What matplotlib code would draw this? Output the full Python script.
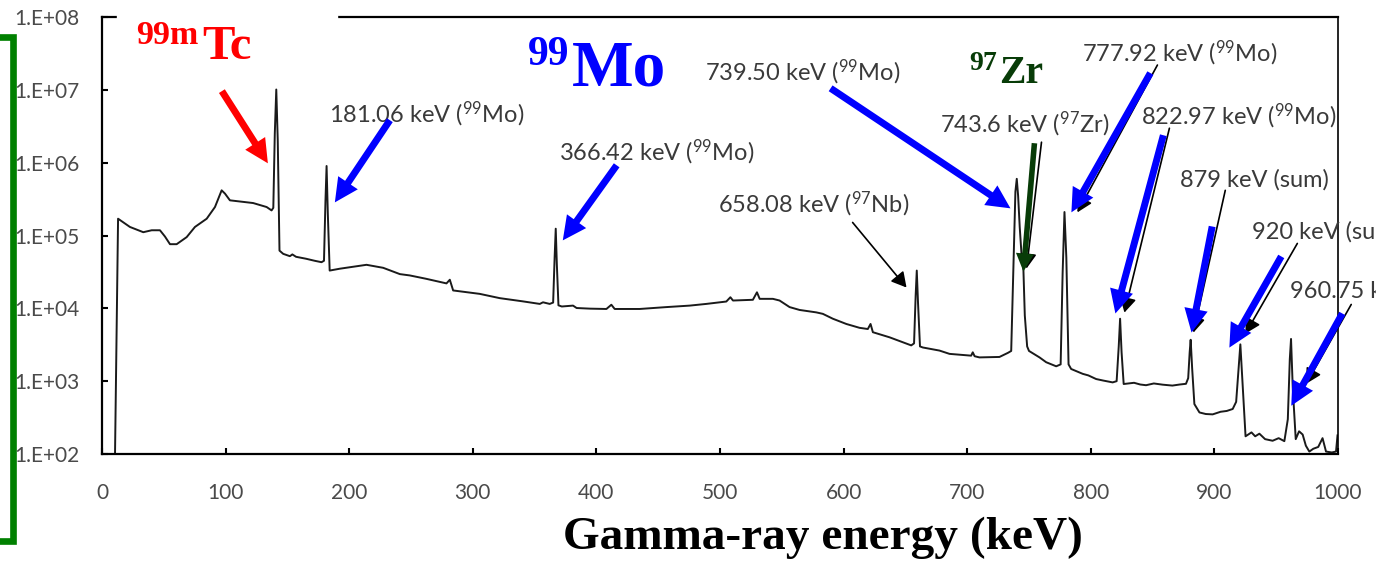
import matplotlib
matplotlib.use("Agg")
import matplotlib.pyplot as plt
from matplotlib.patches import Rectangle
from matplotlib.lines import Line2D

plt.rcParams['font.family'] = ['Lato', 'DejaVu Sans']
plt.rcParams['mathtext.fontset'] = 'custom'
plt.rcParams['mathtext.rm'] = 'Lato'
plt.rcParams['mathtext.it'] = 'Lato:italic'
plt.rcParams['mathtext.bf'] = 'Lato:bold'

# gamma spectrum (keV, counts)
energy = [10.5, 13.0, 22.6, 33.4, 40.2, 46.9, 50.9, 55.0, 60.4, 68.5, 75.2, 84.7,
          91.4, 96.8, 99.5, 103.5, 111.6, 122.3, 133.2, 137.2, 138.6, 139.8, 141.0,
          142.2, 143.6, 146.6, 152.0, 154.0, 157.0, 165.0, 172.0, 177.6, 179.6,
          180.8, 181.7, 182.7, 184.2, 192.4, 200.5, 214.0, 227.5, 241.0, 249.0,
          262.0, 278.7, 281.4, 284.1, 305.6, 321.8, 340.0, 354.2, 356.8, 362.2,
          365.0, 366.2, 367.1, 368.0, 369.3, 372.0, 381.1, 384.0, 395.0, 408.1,
          412.1, 414.8, 435.0, 456.6, 475.5, 488.9, 505.1, 508.4, 510.5, 526.6,
          529.9, 532.1, 542.8, 548.2, 556.3, 564.4, 577.9, 583.2, 591.3, 602.2,
          612.9, 619.6, 621.8, 623.7, 637.2, 654.7, 657.0, 658.3, 659.2, 660.2,
          661.8, 664.1, 677.6, 685.7, 703.2, 704.5, 706.0, 709.9, 726.1, 733.0,
          735.6, 737.6, 739.0, 740.1, 741.2, 742.5, 743.8, 745.5, 746.6, 748.5,
          750.0, 758.5, 763.9, 772.0, 775.6, 777.2, 778.7, 780.2, 782.0, 784.1,
          793.5, 798.0, 804.3, 810.0, 817.7, 820.9, 822.6, 823.7, 824.9, 826.6,
          835.0, 840.0, 844.7, 851.0, 858.2, 866.0, 872.0, 877.0, 878.8, 880.0,
          880.8, 882.0, 883.8, 887.9, 893.0, 898.6, 905.0, 910.0, 914.8, 917.6,
          919.6, 921.0, 922.4, 925.2, 930.0, 933.0, 936.4, 941.0, 947.1, 952.0,
          956.6, 959.4, 961.0, 962.0, 963.4, 965.8, 968.5, 971.4, 974.0, 976.8,
          980.0, 984.0, 987.5, 990.3, 995.0, 998.4, 999.6]
counts = [90, 1.70e5, 1.31e5, 1.11e5, 1.18e5, 1.18e5, 9.7e4, 7.6e4, 7.6e4, 9.5e4, 1.31e5, 1.70e5,
          2.46e5, 4.17e5, 3.76e5, 3.04e5, 2.93e5, 2.79e5, 2.46e5, 2.21e5, 2.4e5, 2.5e6, 1.01e7,
          2.0e6, 6.2e4, 5.6e4, 5.2e4, 5.5e4, 5.1e4, 4.8e4, 4.5e4, 4.3e4, 4.5e4,
          3.0e5, 9.0e5, 2.0e5, 3.3e4, 3.5e4, 3.67e4, 3.96e4, 3.6e4, 2.95e4, 2.83e4,
          2.55e4, 2.2e4, 2.47e4, 1.76e4, 1.58e4, 1.38e4, 1.25e4, 1.15e4, 1.21e4, 1.15e4,
          1.2e4, 5.0e4, 1.24e5, 4.0e4, 1.1e4, 1.06e4, 1.09e4, 1.01e4, 9.9e3, 9.8e3,
          1.12e4, 9.8e3, 9.8e3, 1.04e4, 1.09e4, 1.15e4, 1.24e4, 1.42e4, 1.28e4, 1.31e4,
          1.66e4, 1.35e4, 1.35e4, 1.28e4, 1.04e4, 9.5e3, 8.8e3, 8.4e3, 7.2e3, 6.1e3,
          5.4e3, 5.2e3, 6.1e3, 4.7e3, 4.0e3, 3.1e3, 3.3e3, 1.5e4, 3.3e4, 1.2e4,
          3.0e3, 2.9e3, 2.63e3, 2.37e3, 2.24e3, 2.49e3, 2.2e3, 2.12e3, 2.15e3, 2.45e3,
          2.6e3, 5.0e4, 4.0e5, 6.0e5, 3.5e5, 1.3e5, 6.0e4, 3.3e4, 8.0e3, 3.0e3,
          2.6e3, 2.12e3, 1.82e3, 1.6e3, 1.7e3, 3.0e4, 2.1e5, 5.0e4, 1.7e3, 1.47e3,
          1.26e3, 1.2e3, 1.07e3, 1.02e3, 962, 1.0e3, 3.0e3, 7.2e3, 2.5e3, 914,
          950, 900, 880, 930, 895, 870, 900, 920, 1.1e3, 2.5e3,
          3.7e3, 1.5e3, 485, 372, 354, 350, 380, 390, 415, 520,
          1.5e3, 3.2e3, 1.2e3, 175, 198, 175, 190, 160, 152, 165,
          150, 300, 2.0e3, 3.8e3, 800, 160, 205, 185, 130, 108,
          118, 125, 165, 108, 105, 108, 180]

yticks = [1e2, 1e3, 1e4, 1e5, 1e6, 1e7, 1e8]
ytick_labels = ['1.E+02', '1.E+03', '1.E+04', '1.E+05', '1.E+06', '1.E+07', '1.E+08']
xticks = [0, 100, 200, 300, 400, 500, 600, 700, 800, 900, 1000]

# peak labels: text, left x (keV), centre y (counts)
peak_labels = [
    (r'181.06 keV ($^{99}$Mo)', 183.6, 4.6e6),
    (r'366.42 keV ($^{99}$Mo)', 369.5, 1.39e6),
    (r'658.08 keV ($^{97}$Nb)', 498.1, 2.68e5),
    (r'739.50 keV ($^{99}$Mo)', 487.6, 1.75e7),
    (r'743.6 keV ($^{97}$Zr)', 677.6, 3.37e6),
    (r'777.92 keV ($^{99}$Mo)', 793.2, 3.2e7),
    (r'822.97 keV ($^{99}$Mo)', 840.9, 4.35e6),
    ('879 keV (sum)', 872.5, 5.73e5),
    ('920 keV (sum)', 930.7, 1.14e5),
    ('960.75 keV', 961.4, 1.70e4),
]

# thin leader arrows: tail (x, y) -> tip (x, y)
leaders = [
    (607.3, 1.51e5, 650.9, 1.93e4),
    (760.1, 1.91e6, 748.0, 3.52e4),
    (853.9, 2.19e7, 789.2, 2.08e5),
    (863.6, 2.97e6, 827.2, 8.75e3),
    (908.8, 4.17e5, 883.1, 4.65e3),
    (967.1, 7.78e4, 925.1, 4.5e3),
    (1010.7, 1.13e4, 974.4, 925),
]

# thick highlight arrows
blue_arrows = [
    (232.9, 3.83e6, 188.4, 2.85e5),
    (416.4, 9.2e5, 372.8, 8.57e4),
    (589.5, 1.05e7, 735.0, 2.36e5),
    (848.2, 1.70e7, 784.3, 2.08e5),
    (858.7, 2.38e6, 819.9, 8.5e3),
    (898.2, 1.33e5, 881.5, 4.65e3),
    (954.1, 5.16e4, 912.1, 2.89e3),
    (1003.5, 8.5e3, 962.2, 460),
]
red_arrow = (97.0, 9.6e6, 134.2, 9.8e5)
green_arrow = (754.4, 1.85e6, 745.5, 3.2e4)

W, H = 1390, 562
fig = plt.figure(figsize=(W / 100, H / 100), dpi=100)
ax = fig.add_axes([102 / W, 1 - 454 / H, (1338 - 102) / W, (454 - 17) / H])

ax.plot(energy, counts, color='#1a1a1a', lw=1.4, zorder=2)
ax.set_yscale('log')
ax.set_xlim(0, 1000)
ax.set_ylim(1e2, 1e8)
ax.minorticks_off()
ax.set_yticks(yticks)
ax.set_yticklabels(ytick_labels)
ax.set_xticks(xticks)
ax.set_xticklabels([str(t) for t in xticks])
ax.tick_params(direction='in', length=4.5, width=1.5, labelsize=15, labelcolor='#4a4a4a')
ax.tick_params(axis='y', pad=16)
ax.tick_params(axis='x', pad=21)
ax.tick_params(right=False, top=False)
for side in ['left', 'bottom', 'top']:
    ax.spines[side].set_linewidth(1.6)
ax.spines['right'].set_linewidth(1.2)


def arrow(x0, y0, x1, y1, style, color, lw=0, z=4):
    ax.annotate('', xy=(x1, y1), xytext=(x0, y0), annotation_clip=False,
                arrowprops=dict(arrowstyle=style, mutation_scale=1, color=color,
                                lw=lw, shrinkA=0, shrinkB=0), zorder=z)


for t, x, y in peak_labels:
    ax.text(x, y, t, ha='left', va='center', fontsize=17, color='#3a3a3a', zorder=3)

for x0, y0, x1, y1 in leaders:
    arrow(x0, y0, x1, y1, '-|>,head_length=9,head_width=5', 'black', lw=1.2, z=3)

thick = 'simple,head_length=17,head_width=17,tail_width=5'
for x0, y0, x1, y1 in blue_arrows:
    arrow(x0, y0, x1, y1, thick, '#0000ff')
arrow(*red_arrow, thick, '#ff0000')
arrow(*green_arrow, 'simple,head_length=13,head_width=13,tail_width=4', '#083c08')

# isotope names
serif = dict(family='Liberation Serif', weight='bold', va='baseline', ha='left')
ax.text(27.5, 4.2e7, '99m', fontsize=24.5, color='#ff0000', **serif)
ax.text(81.0, 2.64e7, 'Tc', fontsize=35, color='#ff0000', **serif)
ax.text(344.5, 2.19e7, '99', fontsize=30, color='#0000ff', **serif)
ax.text(380.0, 1.16e7, 'Mo', fontsize=47, color='#0000ff', **serif)
ax.text(701.9, 1.87e7, '97', fontsize=20, color='#083c08', **serif)
ax.text(726.1, 1.24e7, 'Zr', fontsize=28.5, color='#083c08', **serif)

fig.text(823 / W, 1 - 549 / H, 'Gamma-ray energy (keV)', ha='center', va='baseline',
         family='Liberation Serif', weight='bold', fontsize=34)

# green bracket on the left
fig.add_artist(Line2D([0, 13 / W, 13 / W, 0], [1 - 37 / H, 1 - 37 / H, 1 - 541 / H, 1 - 541 / H],
                      color='#008000', lw=4.8, solid_joinstyle='miter'))
# gap in the top border and cropped right edge
fig.add_artist(Rectangle((117 / W, 1 - 19 / H), 220 / W, 4 / H, transform=fig.transFigure,
                         color='white', zorder=1))
fig.add_artist(Rectangle((1376 / W, 0), 14 / W, 1, transform=fig.transFigure,
                         color='white', zorder=5))

fig.savefig('out.png', dpi=100)
